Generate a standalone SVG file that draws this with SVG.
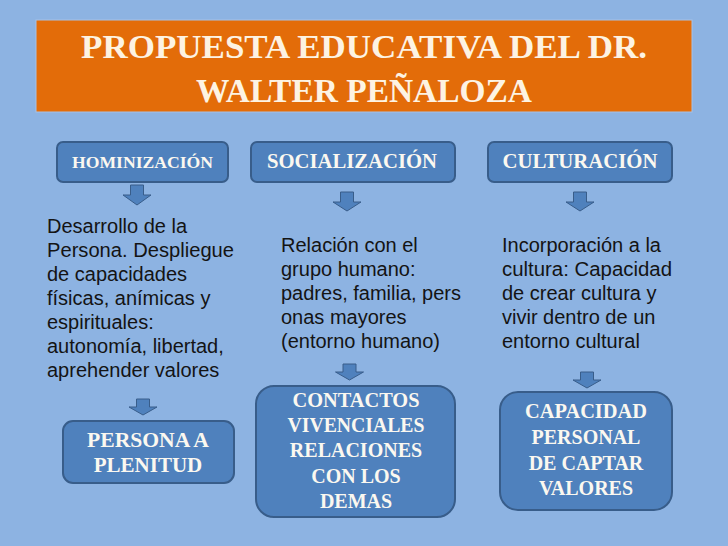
<svg xmlns="http://www.w3.org/2000/svg" width="728" height="546" viewBox="0 0 728 546">
<style>
.title{font-family:"Liberation Serif","Times New Roman",serif;font-weight:bold;font-size:34px;fill:#fdf3e3;text-anchor:middle}
.box{fill:#4f81bd;stroke:#385d8a;stroke-width:2}
.lbl{font-family:"Liberation Serif","Times New Roman",serif;font-weight:bold;font-size:20px;fill:#fbf8f0;text-anchor:middle}
.body{font-family:"Liberation Sans",Arial,sans-serif;font-size:20px;fill:#141414}
.arr{fill:#4f81bd;stroke:#385d8a;stroke-width:1}
</style>
<rect width="728" height="546" fill="#8db3e2"/>
<g id="title">
<rect x="36" y="20" width="656" height="92" fill="#e36c09" stroke="#a8c2e6" stroke-width="1"/>
<text class="title" x="364" y="58" textLength="566" lengthAdjust="spacingAndGlyphs">PROPUESTA EDUCATIVA DEL DR.</text>
<text class="title" x="364" y="102" textLength="336" lengthAdjust="spacingAndGlyphs">WALTER PEÑALOZA</text>
</g>
<g id="hominizacion">
<rect class="box" x="57" y="142" width="171" height="40" rx="6"/>
<text class="lbl" x="142.5" y="168" style="font-size:17px" textLength="141" lengthAdjust="spacingAndGlyphs">HOMINIZACIÓN</text>
</g>
<g id="socializacion">
<rect class="box" x="251" y="142" width="204" height="40" rx="6"/>
<text class="lbl" x="352" y="168" textLength="170" lengthAdjust="spacingAndGlyphs">SOCIALIZACIÓN</text>
</g>
<g id="culturacion">
<rect class="box" x="488" y="142" width="184" height="40" rx="6"/>
<text class="lbl" x="580" y="168" textLength="155" lengthAdjust="spacingAndGlyphs">CULTURACIÓN</text>
</g>
<g id="desc-hominizacion">
<text class="body" x="47" y="233">Desarrollo de la</text>
<text class="body" x="47" y="257" textLength="187" lengthAdjust="spacingAndGlyphs">Persona. Despliegue</text>
<text class="body" x="47" y="281">de capacidades</text>
<text class="body" x="47" y="305">físicas, anímicas y</text>
<text class="body" x="47" y="329">espirituales:</text>
<text class="body" x="47" y="353">autonomía, libertad,</text>
<text class="body" x="47" y="377">aprehender valores</text>
</g>
<g id="desc-socializacion">
<text class="body" x="281" y="252">Relación con el</text>
<text class="body" x="281" y="276">grupo humano:</text>
<text class="body" x="281" y="300" textLength="180" lengthAdjust="spacingAndGlyphs">padres, familia, pers</text>
<text class="body" x="281" y="324">onas mayores</text>
<text class="body" x="281" y="348">(entorno humano)</text>
</g>
<g id="desc-culturacion">
<text class="body" x="502" y="252">Incorporación a la</text>
<text class="body" x="502" y="276" textLength="170" lengthAdjust="spacingAndGlyphs">cultura: Capacidad</text>
<text class="body" x="502" y="300">de crear cultura y</text>
<text class="body" x="502" y="324">vivir dentro de un</text>
<text class="body" x="502" y="348">entorno cultural</text>
</g>
<g id="connectors">
<path class="arr" d="M130.5 185h13v10h7.5l-14 10l-14-10h7.5z"/>
<path class="arr" d="M340.5 192h13v10h7.5l-14 9l-14-9h7.5z"/>
<path class="arr" d="M573.5 192h13v10h7.5l-14 9l-14-9h7.5z"/>
<path class="arr" d="M136.5 399h13v8h7.5l-14 8l-14-8h7.5z"/>
<path class="arr" d="M343 364h13v8h7.5l-14 8l-14-8h7.5z"/>
<path class="arr" d="M580.5 372h13v8h7.5l-14 8l-14-8h7.5z"/>
</g>
<g id="persona-plenitud">
<rect class="box" x="63" y="421" width="171" height="62" rx="10"/>
<text class="lbl" x="148" y="447" style="font-size:21px" textLength="122" lengthAdjust="spacingAndGlyphs">PERSONA A</text>
<text class="lbl" x="148" y="472" style="font-size:21px">PLENITUD</text>
</g>
<g id="contactos">
<rect class="box" x="256" y="386" width="199" height="131" rx="18"/>
<text class="lbl" x="356" y="407" textLength="127" lengthAdjust="spacingAndGlyphs">CONTACTOS</text>
<text class="lbl" x="356" y="432" textLength="137" lengthAdjust="spacingAndGlyphs">VIVENCIALES</text>
<text class="lbl" x="356" y="457">RELACIONES</text>
<text class="lbl" x="356" y="483">CON LOS</text>
<text class="lbl" x="356" y="508">DEMAS</text>
</g>
<g id="capacidad">
<rect class="box" x="500" y="392" width="172" height="118" rx="18"/>
<text class="lbl" x="586" y="418" textLength="122" lengthAdjust="spacingAndGlyphs">CAPACIDAD</text>
<text class="lbl" x="586" y="444">PERSONAL</text>
<text class="lbl" x="586" y="470">DE CAPTAR</text>
<text class="lbl" x="586" y="495">VALORES</text>
</g>
</svg>
